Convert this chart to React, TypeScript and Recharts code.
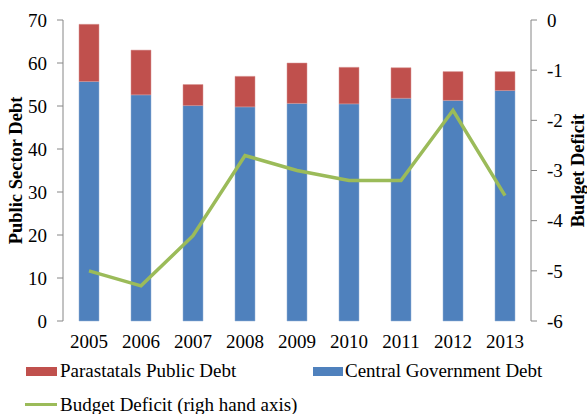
import React from 'react';
import { ComposedChart, Bar, Line, XAxis, YAxis, Label } from 'recharts';

const years = ['2005', '2006', '2007', '2008', '2009', '2010', '2011', '2012', '2013'];
const centralDebt = [55.7, 52.6, 50.1, 49.8, 50.6, 50.5, 51.8, 51.3, 53.6];
const parastatalDebt = [13.3, 10.4, 4.9, 7.1, 9.4, 8.5, 7.1, 6.7, 4.4];
const budgetDeficit = [-5.0, -5.3, -4.3, -2.7, -3.0, -3.2, -3.2, -1.8, -3.5];
const leftTicks = [0, 10, 20, 30, 40, 50, 60, 70];
const rightTicks = [-6, -5, -4, -3, -2, -1, 0];
const boundaryTicks = [0, 1, 2, 3, 4, 5, 6, 7, 8, 9];

const BLUE = '#4F81BD';
const RED = '#C0504D';
const GREEN = '#9BBB59';
const AXIS = '#868686';
const FONT = '"Liberation Serif", "Times New Roman", serif';

const data = years.map((y, i) => ({
  year: y,
  central: centralDebt[i],
  parastatal: parastatalDebt[i],
  deficit: budgetDeficit[i],
}));

const tickStyle = { fill: '#000', fontSize: 19, fontFamily: FONT };
const titleStyle = { fontSize: 18.5, fontWeight: 'bold', fontFamily: FONT, fill: '#000' };

export default function App() {
  return (
    <div style={{ position: 'absolute', left: 0, top: 0, width: 587, height: 414, background: '#fff', fontFamily: FONT, overflow: 'hidden' }}>
      <ComposedChart width={587} height={414} data={data} margin={{ top: 20, right: 0, bottom: 63, left: 0 }} barSize={20}>
        <XAxis
          xAxisId="grid"
          type="number"
          domain={[0, 9]}
          ticks={boundaryTicks}
          allowDataOverflow
          height={0}
          stroke={AXIS}
          tickSize={6}
          tickFormatter={() => ''}
          tick={{ fontSize: 1 }}
        />
        <XAxis
          dataKey="year"
          height={30}
          axisLine={false}
          tickLine={false}
          tickSize={0}
          tickMargin={14}
          tick={tickStyle}
          interval={0}
        />
        <YAxis
          yAxisId="left"
          width={63}
          domain={[0, 70]}
          ticks={leftTicks}
          stroke={AXIS}
          tickSize={6}
          tickMargin={10}
          tick={tickStyle}
        >
          <Label value="Public Sector Debt" angle={-90} position="center" dx={-16} style={titleStyle} />
        </YAxis>
        <YAxis
          yAxisId="right"
          orientation="right"
          width={56}
          domain={[-6, 0]}
          ticks={rightTicks}
          stroke={AXIS}
          tickSize={6}
          tickMargin={10}
          tick={tickStyle}
        >
          <Label value="Budget Deficit" angle={-90} position="center" dx={18} style={titleStyle} />
        </YAxis>
        <Bar yAxisId="left" dataKey="central" stackId="a" fill={BLUE} stroke="#95B3D7" strokeWidth={0.5} isAnimationActive={false} />
        <Bar yAxisId="left" dataKey="parastatal" stackId="a" fill={RED} stroke="#D99694" strokeWidth={0.5} isAnimationActive={false} />
        <Line yAxisId="right" dataKey="deficit" stroke={GREEN} strokeWidth={3.5} dot={false} strokeLinejoin="miter" isAnimationActive={false} />
      </ComposedChart>
      <div style={{ position: 'absolute', left: 26, top: 367, width: 31, height: 9, background: RED }} />
      <div style={{ position: 'absolute', left: 60, top: 360, fontSize: 19, lineHeight: '22px', whiteSpace: 'nowrap' }}>Parastatals Public Debt</div>
      <div style={{ position: 'absolute', left: 313, top: 367, width: 30, height: 9, background: BLUE }} />
      <div style={{ position: 'absolute', left: 345, top: 360, fontSize: 19, lineHeight: '22px', whiteSpace: 'nowrap' }}>Central Government Debt</div>
      <div style={{ position: 'absolute', left: 25, top: 403, width: 32, height: 3, background: GREEN }} />
      <div style={{ position: 'absolute', left: 60, top: 394, fontSize: 19, lineHeight: '22px', whiteSpace: 'nowrap' }}>Budget Deficit (righ hand axis)</div>
    </div>
  );
}
